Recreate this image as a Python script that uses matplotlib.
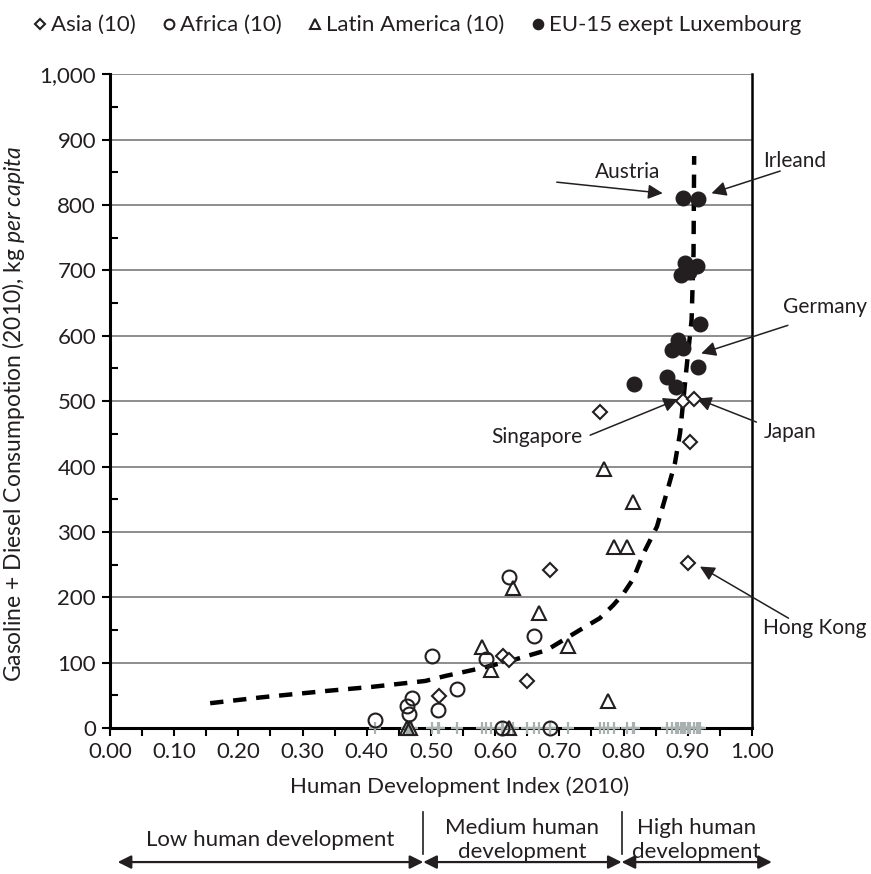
import matplotlib
matplotlib.use('Agg')
import matplotlib.pyplot as plt
import matplotlib.transforms as mtransforms
from matplotlib.ticker import MultipleLocator, FuncFormatter

plt.rcParams['font.family'] = ['Lato', 'DejaVu Sans']
plt.rcParams['mathtext.fontset'] = 'custom'
plt.rcParams['mathtext.rm'] = 'Lato'
plt.rcParams['mathtext.it'] = 'Lato:italic'

TXT = '#231f20'
FS = 16

# HDI (2010) and gasoline + diesel use (kg per capita)
asia_hdi = [0.892, 0.910, 0.904, 0.900, 0.763, 0.686, 0.612, 0.622, 0.649, 0.512]
asia_fuel = [501, 503, 437, 253, 483, 242, 110, 104, 72, 49]

africa_hdi = [0.622, 0.660, 0.502, 0.586, 0.540, 0.470, 0.462, 0.466, 0.511, 0.413, 0.610, 0.686]
africa_fuel = [231, 141, 110, 105, 59, 46, 33, 21, 28, 13, 0, 0]

latam_hdi = [0.770, 0.814, 0.785, 0.806, 0.628, 0.668, 0.714, 0.579, 0.593, 0.775, 0.622, 0.462, 0.468]
latam_fuel = [397, 345, 277, 277, 214, 176, 125, 124, 89, 42, 0, 0, 0]

eu_hdi = [0.893, 0.916, 0.896, 0.914, 0.890, 0.902, 0.919, 0.885, 0.875, 0.893, 0.916, 0.867, 0.882, 0.816]
eu_fuel = [811, 809, 711, 706, 693, 698, 618, 593, 578, 581, 552, 537, 522, 526]

# dashed trend curve
trend_hdi = [0.156, 0.236, 0.340, 0.408, 0.491, 0.524, 0.580, 0.628, 0.680, 0.732, 0.763,
             0.784, 0.800, 0.815, 0.831, 0.852, 0.867, 0.880, 0.888, 0.893, 0.898, 0.906,
             0.909, 0.910]
trend_fuel = [38, 47, 57, 63, 72, 80, 92, 104, 119, 150, 168, 188, 206, 228, 267, 308,
              359, 405, 451, 500, 550, 624, 726, 875]

# labelled countries: name, (point hdi, fuel), (arrow tail hdi, fuel), (text hdi, fuel), ha
callouts = [
    ('Austria', (0.861, 818), (0.696, 835), (0.807, 850), 'center'),
    ('Irleand', (0.937, 818), (1.044, 852), (1.017, 868), 'left'),
    ('Germany', (0.921, 573), (1.056, 616), (1.049, 644), 'left'),
    ('Singapore', (0.885, 503), (0.748, 448), (0.665, 445), 'center'),
    ('Japan', (0.914, 504), (1.007, 468), (1.019, 453), 'left'),
    ('Hong Kong', (0.919, 247), (1.057, 168), (1.017, 153), 'left'),
]

groups = ['Low human development', 'Medium human\ndevelopment', 'High human\ndevelopment']
group_edges = [0.012, 0.488, 0.797, 1.031]

fig = plt.figure(figsize=(8.71, 8.74), dpi=100)
ax = fig.add_axes([0.1263, 0.167, 0.737, 0.748])

all_hdi = asia_hdi + africa_hdi + latam_hdi + eu_hdi
ax.plot(all_hdi, [0] * len(all_hdi), ls='none', marker='+', ms=8, mew=1.6,
        color='#a9b0b0', clip_on=False, zorder=3)

ax.plot(trend_hdi, trend_fuel, color='black', lw=3.2, ls=(0, (3, 2.2)), zorder=4)

ax.plot(asia_hdi, asia_fuel, ls='none', marker='D', ms=7, mfc='white', mec=TXT, mew=1.5,
        clip_on=False, zorder=5, label='Asia (10)')
ax.plot(africa_hdi, africa_fuel, ls='none', marker='o', ms=10, mfc='none', mec=TXT, mew=1.5,
        clip_on=False, zorder=5, label='Africa (10)')
ax.plot(latam_hdi, latam_fuel, ls='none', marker='^', ms=10, mfc='none', mec=TXT, mew=1.5,
        clip_on=False, zorder=5, label='Latin America (10)')
ax.plot(eu_hdi, eu_fuel, ls='none', marker='o', ms=10.5, color=TXT,
        clip_on=False, zorder=5, label='EU-15 exept Luxembourg')

ax.set_xlim(0, 1)
ax.set_ylim(0, 1000)
ax.xaxis.set_major_locator(MultipleLocator(0.1))
ax.xaxis.set_minor_locator(MultipleLocator(0.05))
ax.yaxis.set_major_locator(MultipleLocator(100))
ax.yaxis.set_minor_locator(MultipleLocator(50))
ax.xaxis.set_major_formatter(FuncFormatter(lambda v, p: f'{v:.2f}'))
ax.yaxis.set_major_formatter(FuncFormatter(lambda v, p: f'{v:,.0f}'))
ax.tick_params(axis='both', which='major', labelsize=FS, labelcolor=TXT, length=6,
               width=1.5, direction='out', pad=4)
ax.tick_params(axis='x', which='minor', length=6, width=1.5, direction='out')
ax.tick_params(axis='y', which='minor', length=6, width=1.5, direction='in')

ax.grid(axis='y', color='#7a7a7a', lw=1.2)
ax.set_axisbelow(True)
ax.spines['top'].set_visible(False)
ax.spines['left'].set_linewidth(2.2)
ax.spines['bottom'].set_linewidth(2.2)
ax.spines['right'].set_linewidth(1.8)

ax.set_ylabel('Gasoline + Diesel Consumpotion (2010), kg $\\mathit{per\\ capita}$',
              fontsize=16.5, color=TXT)
ax.yaxis.set_label_coords(-0.13, 0.48)
fig.text(0.528, 0.0995, 'Human Development Index (2010)', fontsize=FS, color=TXT,
         ha='center', va='center')

for name, tip, tail, pos, ha in callouts:
    ax.annotate('', xy=tip, xytext=tail, annotation_clip=False,
                arrowprops=dict(arrowstyle='-|>', color=TXT, lw=1.1, mutation_scale=22,
                                shrinkA=0, shrinkB=0))
    ax.text(pos[0], pos[1], name, fontsize=15, color=TXT, ha=ha, va='center')

# development bands below the x axis
trans = mtransforms.blended_transform_factory(ax.transData, ax.transAxes)
for i, g in enumerate(groups):
    x0, x1 = group_edges[i], group_edges[i + 1]
    ax.annotate('', xy=(x1, -0.205), xytext=(x0, -0.205), xycoords=trans, textcoords=trans,
                annotation_clip=False,
                arrowprops=dict(arrowstyle='<|-|>', color=TXT, lw=1.6, mutation_scale=20,
                                shrinkA=0, shrinkB=0))
    ax.text((x0 + x1) / 2, -0.171, g, transform=trans, fontsize=FS, color=TXT,
            ha='center', va='center', linespacing=1.25)
for x in group_edges[1:3]:
    ax.plot([x, x], [-0.128, -0.193], transform=trans, color=TXT, lw=1.2, clip_on=False)

fig.legend(loc='center', bbox_to_anchor=(0.479, 0.971), ncol=4, frameon=False,
           fontsize=FS, handlelength=0.6, handletextpad=0.2, columnspacing=1.2,
           markerscale=0.7, labelcolor=TXT)

fig.savefig('out.png', dpi=100)
